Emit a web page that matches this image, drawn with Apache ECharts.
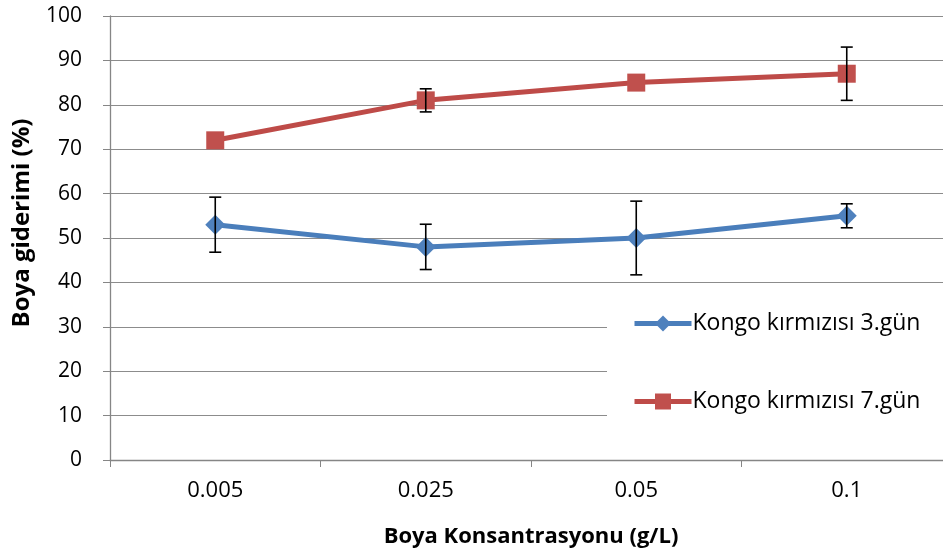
<!DOCTYPE html>
<html><head><meta charset="utf-8">
<script src="https://cdn.jsdelivr.net/npm/echarts@6/dist/echarts.min.js"></script>
<style>html,body{margin:0;padding:0;background:#fff}#c{width:943px;height:551px}</style>
</head><body><div id="c"></div>
<script>
const categories = ['0.005', '0.025', '0.05', '0.1'];
const day3 = [53, 48, 50, 55];
const day3Err = [6.2, 5.1, 8.3, 2.7];
const day7 = [72, 81, 85, 87];
const day7Err = [0, 2.6, 0, 6];
const yTicks = [0, 10, 20, 30, 40, 50, 60, 70, 80, 90, 100];
const seriesNames = ['Kongo kırmızısı 3.gün', 'Kongo kırmızısı 7.gün'];

const FONT = 'Open Sans';
function errData(vals, errs) {
  return vals.map((v, i) => [i, v - errs[i], v + errs[i]]).filter((d, i) => errs[i] > 0);
}
function errSeries(vals, errs) {
  return {
    type: 'custom', silent: true, z: 5,
    data: errData(vals, errs),
    renderItem: function (params, api) {
      const x = api.value(0);
      const lo = api.coord([x, api.value(1)]);
      const hi = api.coord([x, api.value(2)]);
      const w = 6;
      const st = { stroke: '#000', lineWidth: 1.6 };
      return { type: 'group', children: [
        { type: 'line', shape: { x1: lo[0], y1: lo[1], x2: hi[0], y2: hi[1] }, style: st },
        { type: 'line', shape: { x1: lo[0] - w, y1: lo[1], x2: lo[0] + w, y2: lo[1] }, style: st },
        { type: 'line', shape: { x1: hi[0] - w, y1: hi[1], x2: hi[0] + w, y2: hi[1] }, style: st }
      ]};
    }
  };
}
const chart = echarts.init(document.getElementById('c'));
chart.setOption({
  backgroundColor: '#fff',
  animation: false,
  grid: { left: 110, width: 842, top: 16, height: 444, outerBoundsMode: 'none', containLabel: false },
  xAxis: {
    type: 'category', data: categories, boundaryGap: true,
    axisLine: { lineStyle: { color: '#868686', width: 1.3 } },
    axisTick: { show: true, length: 7, lineStyle: { color: '#868686' } },
    axisLabel: { color: '#000', fontSize: 22, fontFamily: FONT, margin: 20 },
    name: 'Boya Konsantrasyonu (g/L)', nameLocation: 'middle', nameGap: 66,
    nameTextStyle: { color: '#000', fontSize: 22, fontWeight: 'bold', fontFamily: FONT }
  },
  yAxis: {
    type: 'value', min: yTicks[0], max: yTicks[yTicks.length - 1], interval: 10,
    axisLine: { show: true, lineStyle: { color: '#868686', width: 1.3 } },
    axisTick: { show: true, length: 7, lineStyle: { color: '#868686' } },
    splitLine: { lineStyle: { color: '#8c8c8c', width: 1.2 } },
    axisLabel: { color: '#000', fontSize: 21, fontFamily: FONT, margin: 28 },
    name: 'Boya giderimi (%)', nameLocation: 'middle', nameGap: 76, nameRotate: 90,
    nameTextStyle: { color: '#000', fontSize: 24, fontWeight: 'bold', fontFamily: FONT, padding: [0, 0, 0, 30] }
  },
  legend: {
    orient: 'vertical', left: 607, top: 284,
    backgroundColor: '#fff', padding: [28, 40, 34, 25],
    itemWidth: 57, itemHeight: 20, itemGap: 55,
    lineStyle: { width: 5 },
    textStyle: { color: '#000', fontSize: 23, fontFamily: FONT, padding: [0, 0, 0, -4] },
    data: seriesNames
  },
  series: [
    { name: seriesNames[0], type: 'line', data: day3, symbol: 'diamond', symbolSize: 20,
      lineStyle: { color: '#4a7ebb', width: 5 }, itemStyle: { color: '#4f81bd' }, z: 3 },
    { name: seriesNames[1], type: 'line', data: day7, symbol: 'rect', symbolSize: 18,
      lineStyle: { color: '#be4b48', width: 5 }, itemStyle: { color: '#c0504d' }, z: 3 },
    errSeries(day3, day3Err),
    errSeries(day7, day7Err)
  ]
});
</script></body></html>
